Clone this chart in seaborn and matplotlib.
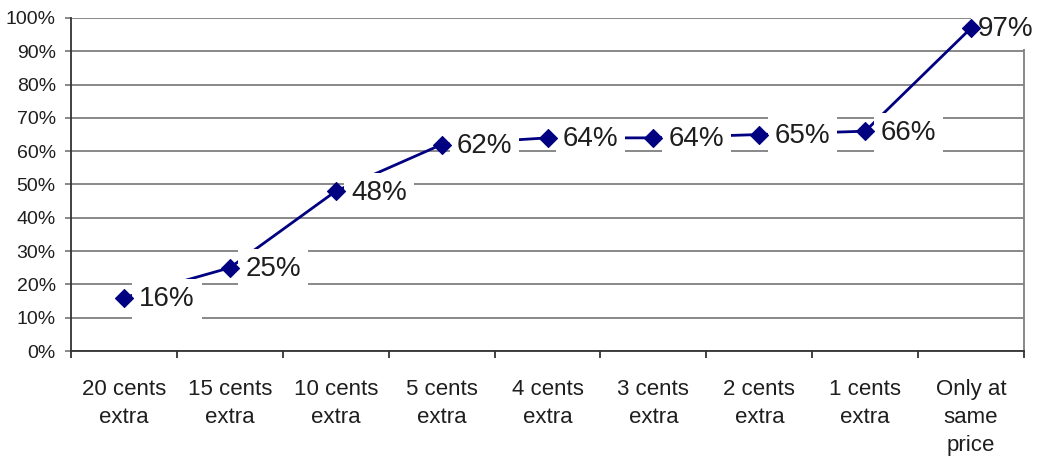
import pandas as pd
import matplotlib
matplotlib.use('Agg')
import matplotlib.pyplot as plt
import seaborn as sns

# data
categories = ['20 cents\nextra', '15 cents\nextra', '10 cents\nextra', '5 cents\nextra',
              '4 cents\nextra', '3 cents\nextra', '2 cents\nextra', '1 cents\nextra',
              'Only at\nsame\nprice']
share = [0.16, 0.25, 0.48, 0.62, 0.64, 0.64, 0.65, 0.66, 0.97]
point_labels = ['16%', '25%', '48%', '62%', '64%', '64%', '65%', '66%', '97%']
y_ticks = [i / 10 for i in range(11)]
y_tick_labels = [f'{i * 10}%' for i in range(11)]

navy = '#000080'
grid_gray = '#7f7f7f'
text_col = '#1e1e1e'


def make_chart():
    sns.set_theme(style='white')
    plt.rcParams['font.family'] = ['Liberation Sans', 'DejaVu Sans']

    df = pd.DataFrame({'pos': range(len(categories)), 'share': share})

    fig = plt.figure(figsize=(10.37, 4.61), dpi=100)
    ax = fig.add_axes([0.0685, 0.2386, 0.9190, 0.7224])

    # horizontal grid
    for y in y_ticks:
        ax.axhline(y, color=grid_gray, lw=1.3, zorder=1)

    sns.lineplot(data=df, x='pos', y='share', color=navy, lw=2.0,
                 ax=ax, zorder=2)

    # data labels with white boxes that hide lines behind them
    last = len(point_labels) - 1
    for i, (x, y, lab) in enumerate(zip(df['pos'], df['share'], point_labels)):
        dx = 5 if i == last else 11  # last one sits tight against the edge
        ax.annotate(lab, (x, y), xytext=(dx, -1), textcoords='offset points',
                    ha='left', va='center', fontsize=20, color=text_col,
                    bbox=dict(boxstyle='square,pad=0.25', fc='white', ec='none'),
                    zorder=3, annotation_clip=False)

    sns.scatterplot(data=df, x='pos', y='share', marker='D', s=85,
                    color=navy, edgecolor=navy, ax=ax, zorder=4)

    ax.set_xlim(-0.5, len(categories) - 0.5)
    ax.set_ylim(0, 1)

    ax.set_yticks(y_ticks)
    ax.set_yticklabels(y_tick_labels)
    ax.tick_params(axis='y', which='major', length=4, width=1.3, color=grid_gray,
                   direction='out', labelsize=14, labelcolor=text_col, pad=7, left=True)

    ax.set_xticks(range(len(categories)))
    ax.set_xticklabels(categories, linespacing=1.45)
    ax.set_xticks([i - 0.5 for i in range(len(categories) + 1)], minor=True)
    ax.tick_params(axis='x', which='major', length=0, labelsize=16,
                   labelcolor=text_col, pad=20)
    ax.tick_params(axis='x', which='minor', length=5, width=1.3, color='#333333',
                   direction='out', bottom=True)

    ax.set_xlabel('')
    ax.set_ylabel('')

    ax.spines['top'].set_visible(False)
    ax.spines['left'].set_color('#333333')
    ax.spines['left'].set_linewidth(1.3)
    ax.spines['bottom'].set_color('#333333')
    ax.spines['bottom'].set_linewidth(1.3)
    ax.spines['right'].set_color(grid_gray)
    ax.spines['right'].set_linewidth(1.3)
    ax.spines['right'].set_zorder(0.5)

    fig.savefig('out.png', dpi=100, facecolor='white')
    plt.close(fig)


if __name__ == '__main__':
    make_chart()
